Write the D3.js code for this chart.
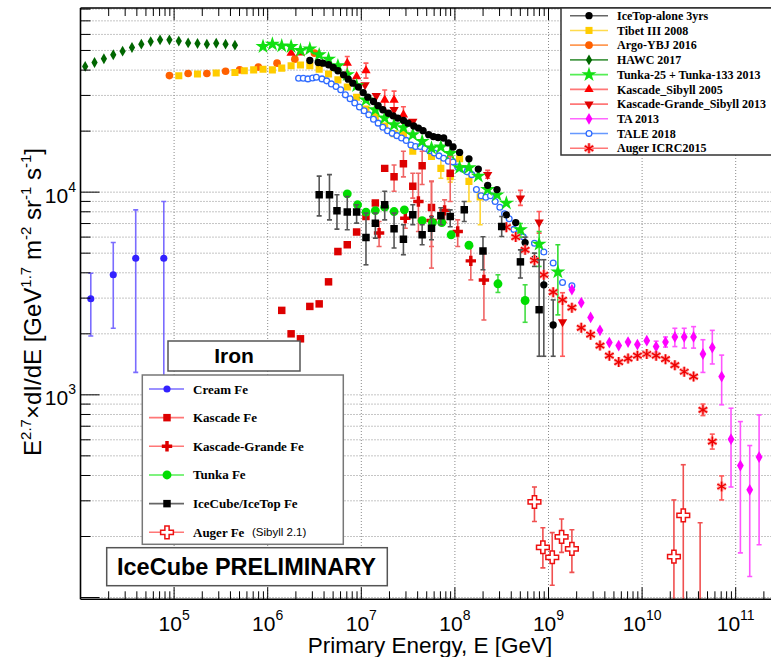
<!DOCTYPE html>
<html>
<head>
<meta charset="utf-8">
<script src="https://cdn.jsdelivr.net/npm/d3@7"></script>
<style>
  body { margin: 0; background: #fff; }
  svg { display: block; }
</style>
</head>
<body>
<svg id="chart"></svg>
<script>
// energies are log10(E/GeV), fluxes are E^2.7 dI/dE in the axis units

// ---- all-particle spectra ----
const icetopLgE = [6.45,6.54,6.59,6.65,6.70,6.75,6.81,6.86,6.91,6.97,7.02,7.07,7.13,7.18,7.23,7.29,7.34,7.39,7.45,7.50,7.56,7.61,7.66,7.72,7.77,7.82,7.88,7.93,7.98,8.05,8.15,8.25,8.35,8.45,8.55,8.65,8.75,8.85,8.95,9.05];
const icetopFlux = [4.46e4,4.36e4,4.33e4,4.25e4,4.12e4,3.97e4,3.79e4,3.61e4,3.45e4,3.30e4,3.10e4,2.94e4,2.80e4,2.67e4,2.55e4,2.45e4,2.38e4,2.32e4,2.26e4,2.19e4,2.12e4,2.07e4,2.01e4,1.92e4,1.88e4,1.86e4,1.85e4,1.75e4,1.67e4,1.57e4,1.46e4,1.30e4,1.08e4,1.03e4,7.73e3,7.08e3,5.64e3,4.67e3,3.49e3,2.21e3];
const icetopLo = [null,null,null,null,null,null,null,null,null,null,null,null,null,null,null,null,null,null,null,null,null,null,null,null,null,null,null,null,null,null,null,null,null,null,null,null,5.3e3,4.3e3,1.55e3,1.55e3];
const icetopHi = [null,null,null,null,null,null,null,null,null,null,null,null,null,null,null,null,null,null,null,null,null,null,null,null,null,null,null,null,null,null,null,null,null,null,null,null,6.0e3,5.0e3,4.64e3,2.94e3];

const tibetLgE = [5.05,5.25,5.45,5.65,5.75,5.85,5.95,6.05,6.15,6.25,6.35,6.45,6.55,6.65,6.75,6.85,6.95,7.05,7.15,7.25,7.35,7.45,7.55,7.75,7.85,7.95,8.05,8.15,8.27];
const tibetFlux = [3.75e4,3.83e4,3.87e4,3.89e4,3.97e4,4.01e4,4.04e4,4.01e4,4.09e4,4.20e4,4.24e4,4.21e4,4.04e4,3.83e4,3.58e4,3.30e4,2.94e4,2.57e4,2.36e4,2.12e4,1.94e4,1.95e4,1.59e4,1.50e4,1.31e4,1.19e4,1.46e4,1.13e4,9.48e3];
const tibetLo = [null,null,null,null,null,null,null,null,null,null,null,null,null,null,null,null,null,null,null,null,null,null,null,null,1.17e4,1.12e4,1.36e4,8.99e3,6.90e3];
const tibetHi = [null,null,null,null,null,null,null,null,null,null,null,null,null,null,null,null,null,null,null,null,null,null,null,null,1.50e4,1.26e4,1.56e4,1.22e4,9.89e3];

const argoLgE = [4.95,5.15,5.35,5.55,5.70,5.90,6.10,6.29,6.50];
const argoFlux = [3.76e4,3.85e4,3.85e4,3.95e4,4.01e4,4.14e4,4.33e4,4.53e4,4.85e4];

const hawcLgE = [4.05,4.15,4.25,4.35,4.45,4.55,4.65,4.75,4.85,4.95,5.05,5.15,5.25,5.35,5.45,5.55,5.65];
const hawcFlux = [4.17e4,4.36e4,4.55e4,4.76e4,4.96e4,5.17e4,5.37e4,5.53e4,5.64e4,5.64e4,5.56e4,5.45e4,5.41e4,5.37e4,5.43e4,5.37e4,5.31e4];

const tunkaLgE = [5.95,6.05,6.15,6.25,6.35,6.45,6.55,6.65,6.75,6.85,6.95,7.05,7.15,7.25,7.35,7.45,7.55,7.65,7.75,7.85,7.95,8.05,8.15,8.25,8.35,8.45,8.55,8.70,8.90,9.10];
const tunkaFlux = [5.23e4,5.37e4,5.27e4,5.23e4,5.00e4,5.09e4,4.76e4,4.53e4,4.20e4,3.80e4,3.35e4,2.85e4,2.55e4,2.32e4,2.15e4,2.08e4,1.92e4,1.78e4,1.65e4,1.67e4,1.55e4,1.32e4,1.32e4,1.20e4,1.03e4,9.70e3,8.83e3,6.52e3,5.54e3,4.04e3];
const tunkaLo = [null,null,null,null,null,null,null,null,null,null,null,null,null,null,null,null,null,null,null,null,null,null,null,null,null,null,null,6.0e3,4.30e3,2.48e3];
const tunkaHi = [null,null,null,null,null,null,null,null,null,null,null,null,null,null,null,null,null,null,null,null,null,null,null,null,null,null,null,7.0e3,6.39e3,5.50e3];

const kascLgE = [6.25,6.35,6.85,6.95,7.05,7.25,7.35,7.45];
const kascFlux = [4.85e4,4.87e4,4.33e4,3.72e4,3.98e4,2.85e4,2.85e4,2.41e4];
const kascLo = [null,null,3.94e4,null,3.65e4,2.55e4,2.58e4,2.19e4];
const kascHi = [null,null,4.67e4,null,4.33e4,3.19e4,3.15e4,2.64e4];

const kgLgE = [7.04,7.16,7.35,7.55,8.35,8.70,8.90,9.15];
const kgFlux = [3.38e4,2.99e4,2.55e4,2.23e4,1.22e4,9.34e3,7.10e3,2.29e3];
const kgLo = [null,null,null,null,1.17e4,8.6e3,6.28e3,1.55e3];
const kgHi = [null,null,null,null,1.28e4,1.02e4,8.02e3,3.19e3];

const taLgE = [9.25,9.35,9.45,9.55,9.65,9.75,9.85,9.95,10.05,10.15,10.25,10.35,10.45,10.55,10.65,10.75,10.85,10.95,11.05,11.15,11.25];
const taFlux = [3.30e3,2.85e3,2.41e3,2.08e3,1.81e3,1.75e3,1.82e3,1.77e3,1.85e3,1.73e3,1.82e3,1.93e3,1.93e3,1.93e3,1.59e3,1.71e3,1.23e3,604,448,340,493];
const taLo = [null,null,null,null,null,null,null,null,null,1.62e3,1.72e3,1.73e3,1.70e3,1.70e3,1.29e3,1.42e3,893,351,166,127,182];
const taHi = [null,null,null,null,null,null,null,null,null,1.84e3,1.93e3,2.13e3,2.13e3,2.17e3,1.87e3,2.08e3,1.57e3,859,738,562,796];

const taleLgE = [6.33,6.38,6.43,6.48,6.52,6.58,6.63,6.68,6.73,6.78,6.83,6.88,6.93,6.98,7.03,7.08,7.13,7.18,7.23,7.28,7.33,7.38,7.43,7.48,7.53,7.58,7.63,7.68,7.73,7.78,7.83,7.88,7.93,7.98,8.03,8.08,8.13,8.18,8.23,8.28,8.33,8.38,8.43,8.48,8.53,8.58,8.63,8.68,8.73,8.85,8.95,9.05,9.15,9.25];
const taleFlux = [3.65e4,3.65e4,3.62e4,3.66e4,3.69e4,3.62e4,3.54e4,3.42e4,3.32e4,3.20e4,3.02e4,2.89e4,2.75e4,2.63e4,2.52e4,2.41e4,2.29e4,2.19e4,2.09e4,2.01e4,1.95e4,1.90e4,1.85e4,1.80e4,1.71e4,1.68e4,1.68e4,1.64e4,1.60e4,1.56e4,1.51e4,1.47e4,1.42e4,1.41e4,1.33e4,1.30e4,1.26e4,1.22e4,1.03e4,9.59e3,9.44e3,9.59e3,8.99e3,8.43e3,7.82e3,7.39e3,6.55e3,6.12e3,6.02e3,5.59e3,5.07e3,4.47e3,3.58e3,3.45e3];

const augerLgE = [8.55,8.65,8.75,8.85,8.95,9.05,9.15,9.25,9.35,9.45,9.55,9.65,9.75,9.85,9.95,10.05,10.15,10.25,10.35,10.45,10.55,10.65,10.75,10.85];
const augerFlux = [6.72e3,6.00e3,5.19e3,4.61e3,3.91e3,3.21e3,2.94e3,2.69e3,2.14e3,1.98e3,1.75e3,1.56e3,1.45e3,1.51e3,1.56e3,1.59e3,1.56e3,1.50e3,1.40e3,1.30e3,1.23e3,843,588,353];
const augerLo = [null,null,null,null,null,null,null,null,null,null,null,null,null,null,null,null,null,null,null,null,null,790,540,303];
const augerHi = [null,null,null,null,null,null,null,null,null,null,null,null,null,null,null,null,null,null,null,null,null,900,640,398];

// ---- iron spectra ----
const creamLgE = [4.11,4.35,4.59,4.89];
const creamFlux = [2.98e3,3.91e3,4.72e3,4.72e3];
const creamLo = [1.95e3,2.13e3,1.29e3,700];
const creamHi = [3.98e3,5.64e3,8.18e3,8.99e3];

const kascFeLgE = [6.15,6.25,6.35,6.45,6.55,6.65,6.75,6.85,6.95,7.05,7.15,7.25,7.35,7.45,7.55,7.65,7.75,7.95];
const kascFeFlux = [2.61e3,2.00e3,1.89e3,2.73e3,2.81e3,3.61e3,5.09e3,5.50e3,6.35e3,7.58e3,8.83e3,1.31e4,1.19e4,1.38e4,1.07e4,1.35e4,8.40e3,1.24e4];
const kascFeLo = [null,null,null,null,null,null,null,null,null,null,null,null,1.01e4,1.19e4,9.34e3,1.09e4,4.22e3,8.99e3];
const kascFeHi = [null,null,null,null,null,null,null,null,null,null,null,null,1.36e4,1.59e4,1.24e4,1.59e4,1.13e4,1.50e4];

const kgFeLgE = [7.19,7.47,7.61,7.75,7.89,8.03,8.17,8.31];
const kgFeFlux = [6.28e3,7.44e3,8.99e3,7.24e3,8.13e3,6.39e3,4.58e3,3.69e3];
const kgFeLo = [5.39e3,6.64e3,6.39e3,5.39e3,7.10e3,5.39e3,3.69e3,2.34e3];
const kgFeHi = [7.16e3,8.34e3,1.24e4,1.13e4,9.16e3,7.30e3,5.39e3,5.00e3];

const tunkaFeLgE = [6.85,6.96,7.05,7.15,7.25,7.35,7.46,7.65,7.76,7.86,7.96,8.15,8.46,8.75];
const tunkaFeFlux = [9.81e3,8.66e3,7.97e3,8.11e3,8.43e3,8.02e3,8.18e3,7.24e3,7.08e3,7.08e3,6.16e3,5.47e3,3.53e3,2.92e3];
const tunkaFeLo = [null,null,null,null,null,null,null,null,null,null,null,null,3.20e3,2.28e3];
const tunkaFeHi = [null,null,null,null,null,null,null,null,null,null,null,null,3.91e3,3.49e3];

const itFeLgE = [6.55,6.66,6.74,6.85,6.95,7.05,7.15,7.25,7.35,7.45,7.55,7.65,7.75,7.85,7.95,8.10,8.30,8.50,8.70,8.90];
const itFeFlux = [9.70e3,9.70e3,8.09e3,7.97e3,7.97e3,5.97e3,7.03e3,8.66e3,6.59e3,5.86e3,7.73e3,6.16e3,6.64e3,7.64e3,7.58e3,8.18e3,5.12e3,6.76e3,4.53e3,2.63e3];
const itFeLo = [7.64e3,7.30e3,6.57e3,6.52e3,7.03e3,4.38e3,5.93e3,7.30e3,5.30e3,4.91e3,6.90e3,5.50e3,5.82e3,6.90e3,6.75e3,7.16e3,4.14e3,6.04e3,3.77e3,1.55e3];
const itFeHi = [1.20e4,1.22e4,9.70e3,9.51e3,8.66e3,7.88e3,7.88e3,1.01e4,7.88e3,6.90e3,8.66e3,6.90e3,7.58e3,8.37e3,8.18e3,8.99e3,6.02e3,7.58e3,5.19e3,4.64e3];

const augerFeLgE = [8.85,8.94,9.04,9.14,9.25,10.34,10.44,10.62];
const augerFeFlux = [296,177,158,199,174,159,254,60];
const augerFeLo = [237,140,115,167,133,60,60,40];
const augerFeHi = [351,221,209,244,216,303,452,234];

const xDecades = [1e5,1e6,1e7,1e8,1e9,1e10,1e11];
const xDecadeExp = ["5","6","7","8","9","10","11"];
const yDecades = [1e3,1e4];
const yDecadeExp = ["3","4"];

// ---- layout ----
const W = 771, H = 657;
const plotL = 80.5, plotR = 771, plotT = 8, plotB = 599.3;
const svg = d3.select("#chart").attr("width", W).attr("height", H);
const x = d3.scaleLog().domain([1e4, Math.pow(10, 11.5)]).range([plotL, 782.5]);
const y = d3.scaleLog().domain([98, 8.1e4]).range([plotB, plotT]);
const sans = "'Liberation Sans', Arial, Helvetica, sans-serif";
const serif = "'Liberation Serif', 'Times New Roman', serif";

svg.append("defs").append("clipPath").attr("id", "plotClip")
  .append("rect").attr("x", plotL).attr("y", plotT)
  .attr("width", plotR - plotL + 10).attr("height", plotB - plotT);

// grid
const grid = svg.append("g");
const yTicks = y.ticks();
grid.selectAll(null).data(yTicks).join("line")
  .attr("x1", plotL).attr("x2", plotR)
  .attr("y1", d => y(d)).attr("y2", d => y(d))
  .attr("stroke", "#8a8a8a").attr("stroke-width", 1).attr("stroke-dasharray", "1,2");
grid.selectAll(null).data(xDecades).join("line")
  .attr("x1", d => x(d)).attr("x2", d => x(d))
  .attr("y1", plotT).attr("y2", plotB)
  .attr("stroke", "#8a8a8a").attr("stroke-width", 1).attr("stroke-dasharray", "1,2");

const symTypes = {
  circle: d3.symbolCircle, square: d3.symbolSquare, diamond: d3.symbolDiamond,
  star: d3.symbolStar, triUp: d3.symbolTriangle, triDown: d3.symbolTriangle,
  cross: d3.symbolCross, asterisk: d3.symbolAsterisk
};

function markerPath(st) {
  return d3.symbol().type(symTypes[st.shape]).size(st.size)();
}

function drawMarker(g, st, cx, cy) {
  const rot = st.shape === "triDown" ? " rotate(180)" : "";
  if (st.shape === "asterisk") {
    g.append("path").attr("d", markerPath(st))
      .attr("transform", `translate(${cx},${cy})`)
      .attr("fill", "none").attr("stroke", "#ff9a9a").attr("stroke-width", 3.2);
  }
  g.append("path").attr("d", markerPath(st))
    .attr("transform", `translate(${cx},${cy})${rot}`)
    .attr("fill", st.fill).attr("stroke", st.stroke || "none")
    .attr("stroke-width", st.strokeWidth || 0);
}

const data = svg.append("g").attr("clip-path", "url(#plotClip)");

function drawSeries(lgE, flux, lo, hi, st) {
  const g = data.append("g");
  const pts = lgE.map((e, i) => ({
    E: Math.pow(10, e), F: flux[i],
    lo: lo ? lo[i] : null, hi: hi ? hi[i] : null
  }));
  const withErr = pts.filter(p => p.lo != null);
  g.selectAll(null).data(withErr).join("line")
    .attr("x1", p => x(p.E)).attr("x2", p => x(p.E))
    .attr("y1", p => y(p.lo)).attr("y2", p => y(p.hi))
    .attr("stroke", st.err).attr("stroke-width", 1.6);
  ["lo", "hi"].forEach(k => {
    g.selectAll(null).data(withErr).join("line")
      .attr("x1", p => x(p.E) - 2.5).attr("x2", p => x(p.E) + 2.5)
      .attr("y1", p => y(p[k])).attr("y2", p => y(p[k]))
      .attr("stroke", st.err).attr("stroke-width", 1.6);
  });
  pts.forEach(p => drawMarker(g, st, x(p.E), y(p.F)));
}

const stIcetop = { shape: "circle", size: 42, fill: "#000", err: "#555", line: "#666" };
const stTibet = { shape: "square", size: 50, fill: "#ffcc00", err: "#ffd633", line: "#ffdb4d" };
const stArgo = { shape: "circle", size: 46, fill: "#ff6000", err: "#ff8c4d", line: "#ff9a55" };
const stHawc = { shape: "diamond", size: 34, fill: "#006600", err: "#338833", line: "#4a9a4a" };
const stTunka = { shape: "star", size: 70, fill: "#11e011", err: "#33dd33", line: "#55ee55" };
const stKasc = { shape: "triUp", size: 38, fill: "#ff0000", err: "#ff5a5a", line: "#ff7777" };
const stKg = { shape: "triDown", size: 38, fill: "#e00000", err: "#ff5a5a", line: "#ff7777" };
const stTa = { shape: "diamond", size: 40, fill: "#ff00ff", err: "#ff55ff", line: "#ff66ff" };
const stTale = { shape: "circle", size: 26, fill: "#fff", stroke: "#2f6bff", strokeWidth: 1.3, err: "#5b8cff", line: "#6699ff" };
const stAuger = { shape: "asterisk", size: 70, fill: "none", stroke: "#ee0000", strokeWidth: 1.4, err: "#ff5a5a", line: "#ff7777" };

const stCream = { shape: "circle", size: 40, fill: "#3322ff", err: "#7a6cff", line: "#7a6cff" };
const stKascFe = { shape: "square", size: 56, fill: "#dd0000", err: "#f06464", line: "#ff7777" };
const stKgFe = { shape: "cross", size: 60, fill: "#dd0000", err: "#f06464", line: "#ff7777" };
const stTunkaFe = { shape: "circle", size: 62, fill: "#00dd00", err: "#44dd44", line: "#55ee55" };
const stItFe = { shape: "square", size: 56, fill: "#000", err: "#555", line: "#666" };
const stAugerFe = { shape: "cross", size: 90, fill: "#fff", stroke: "#ee1111", strokeWidth: 1.5, err: "#f05050", line: "#ff7777" };

drawSeries(hawcLgE, hawcFlux, null, null, stHawc);
drawSeries(argoLgE, argoFlux, null, null, stArgo);
drawSeries(tibetLgE, tibetFlux, tibetLo, tibetHi, stTibet);
drawSeries(kascLgE, kascFlux, kascLo, kascHi, stKasc);
drawSeries(kgLgE, kgFlux, kgLo, kgHi, stKg);
drawSeries(taleLgE, taleFlux, null, null, stTale);
drawSeries(tunkaLgE, tunkaFlux, tunkaLo, tunkaHi, stTunka);
drawSeries(icetopLgE, icetopFlux, icetopLo, icetopHi, stIcetop);
drawSeries(taLgE, taFlux, taLo, taHi, stTa);
drawSeries(augerLgE, augerFlux, augerLo, augerHi, stAuger);

drawSeries(creamLgE, creamFlux, creamLo, creamHi, stCream);
drawSeries(kascFeLgE, kascFeFlux, kascFeLo, kascFeHi, stKascFe);
drawSeries(kgFeLgE, kgFeFlux, kgFeLo, kgFeHi, stKgFe);
drawSeries(tunkaFeLgE, tunkaFeFlux, tunkaFeLo, tunkaFeHi, stTunkaFe);
drawSeries(itFeLgE, itFeFlux, itFeLo, itFeHi, stItFe);
drawSeries(augerFeLgE, augerFeFlux, augerFeLo, augerFeHi, stAugerFe);

// axes frame and ticks
const ax = svg.append("g").attr("stroke", "#000");
ax.append("line").attr("x1", plotL).attr("x2", plotL).attr("y1", plotT).attr("y2", plotB).attr("stroke-width", 1.6);
ax.append("line").attr("x1", plotL).attr("x2", plotR).attr("y1", plotB).attr("y2", plotB).attr("stroke-width", 1.6);
ax.append("line").attr("x1", plotL).attr("x2", plotR).attr("y1", plotT).attr("y2", plotT).attr("stroke-width", 1.6);
const isDecade = v => Math.abs(Math.log10(v) - Math.round(Math.log10(v))) < 1e-6;
ax.selectAll(null).data(yTicks).join("line")
  .attr("x1", plotL).attr("x2", d => plotL + (isDecade(d) ? 19 : 10))
  .attr("y1", d => y(d)).attr("y2", d => y(d)).attr("stroke-width", 1);
const xTicks = x.ticks().filter(d => x(d) > plotL + 1 && x(d) < plotR);
ax.selectAll(null).data(xTicks).join("line")
  .attr("x1", d => x(d)).attr("x2", d => x(d))
  .attr("y1", plotB).attr("y2", d => plotB - (isDecade(d) ? 12 : 8)).attr("stroke-width", 1);
ax.selectAll(null).data(xTicks).join("line")
  .attr("x1", d => x(d)).attr("x2", d => x(d))
  .attr("y1", plotT).attr("y2", d => plotT + (isDecade(d) ? 12 : 8)).attr("stroke-width", 1);

// tick labels
xDecades.forEach((v, i) => {
  const t = svg.append("text").attr("x", x(v)).attr("y", 631)
    .attr("text-anchor", "middle").style("font", `21px ${sans}`).attr("fill", "#000");
  t.append("tspan").text("10");
  t.append("tspan").attr("dy", -11).style("font-size", "14px").text(xDecadeExp[i]);
});
yDecades.forEach((v, i) => {
  const t = svg.append("text").attr("x", 76).attr("y", y(v) + 10.5)
    .attr("text-anchor", "end").style("font", `21px ${sans}`).attr("fill", "#000");
  t.append("tspan").text("10");
  t.append("tspan").attr("dy", -11).style("font-size", "14px").text(yDecadeExp[i]);
});

// axis titles
svg.append("text").attr("x", 430).attr("y", 653).attr("text-anchor", "middle")
  .style("font", `22.5px ${sans}`).text("Primary Energy, E [GeV]");

const yt = svg.append("text").attr("transform", "translate(41,302) rotate(-90)")
  .attr("text-anchor", "middle").style("font", `24px ${sans}`);
const yParts = [["E", 0], ["2.7", 1], ["\u00d7dI/dE [GeV", 0], ["1.7", 1], [" m", 0], ["-2", 1], [" sr", 0], ["-1", 1], [" s", 0], ["-1", 1], ["]", 0]];
let wasSup = false;
yParts.forEach(([s, sup]) => {
  const ts = yt.append("tspan").text(s);
  if (sup && !wasSup) ts.attr("dy", -10).style("font-size", "15px");
  else if (sup) ts.style("font-size", "15px");
  else if (wasSup) ts.attr("dy", 10);
  wasSup = !!sup;
});

// top-right legend
const topLegend = [
  ["IceTop-alone 3yrs", stIcetop], ["Tibet III 2008", stTibet], ["Argo-YBJ 2016", stArgo],
  ["HAWC 2017", stHawc], ["Tunka-25 + Tunka-133 2013", stTunka], ["Kascade_Sibyll 2005", stKasc],
  ["Kascade-Grande_Sibyll 2013", stKg], ["TA 2013", stTa], ["TALE 2018", stTale], ["Auger ICRC2015", stAuger]
];
const lg1 = svg.append("g");
lg1.append("rect").attr("x", 561).attr("y", plotT).attr("width", 230).attr("height", 155 - plotT)
  .attr("fill", "#fff").attr("stroke", "#333").attr("stroke-width", 1.5);
topLegend.forEach(([name, st], i) => {
  const ry = 15.7 + i * 14.73;
  lg1.append("line").attr("x1", 570).attr("x2", 608).attr("y1", ry).attr("y2", ry)
    .attr("stroke", st.line).attr("stroke-width", 1.6);
  drawMarker(lg1, st, 589, ry);
  lg1.append("text").attr("x", 617).attr("y", ry + 4.2)
    .style("font", `bold 12px ${serif}`).text(name);
});

// "Iron" label
svg.append("rect").attr("x", 168).attr("y", 341).attr("width", 132).attr("height", 30)
  .attr("fill", "#fff").attr("stroke", "#555").attr("stroke-width", 1.5);
svg.append("text").attr("x", 234).attr("y", 363).attr("text-anchor", "middle")
  .style("font", `bold 21px ${sans}`).text("Iron");

// iron legend
const feLegend = [
  ["Cream Fe", stCream], ["Kascade Fe", stKascFe], ["Kascade-Grande Fe", stKgFe],
  ["Tunka Fe", stTunkaFe], ["IceCube/IceTop Fe", stItFe], ["Auger Fe", stAugerFe]
];
const lg2 = svg.append("g");
lg2.append("rect").attr("x", 142.3).attr("y", 375).attr("width", 201).attr("height", 169.3)
  .attr("fill", "#fff").attr("stroke", "#777").attr("stroke-width", 1.5);
feLegend.forEach(([name, st], i) => {
  const ry = 389 + i * 28.66;
  lg2.append("line").attr("x1", 149).attr("x2", 184).attr("y1", ry).attr("y2", ry)
    .attr("stroke", st.line).attr("stroke-width", 1.6);
  drawMarker(lg2, st, 167, ry);
  lg2.append("text").attr("x", 193).attr("y", ry + 4.5)
    .style("font", `bold 13px ${serif}`).text(name);
});
lg2.append("text").attr("x", 252).attr("y", 532.3 + 4)
  .style("font", `11.5px ${sans}`).text("(Sibyll 2.1)");

// preliminary label
svg.append("rect").attr("x", 106.7).attr("y", 547.7).attr("width", 280.6).attr("height", 38)
  .attr("fill", "#fff").attr("stroke", "#555").attr("stroke-width", 1.5);
svg.append("text").attr("x", 246.5).attr("y", 575).attr("text-anchor", "middle")
  .style("font", `bold 23.5px ${sans}`).text("IceCube PRELIMINARY");
</script>
</body>
</html>
